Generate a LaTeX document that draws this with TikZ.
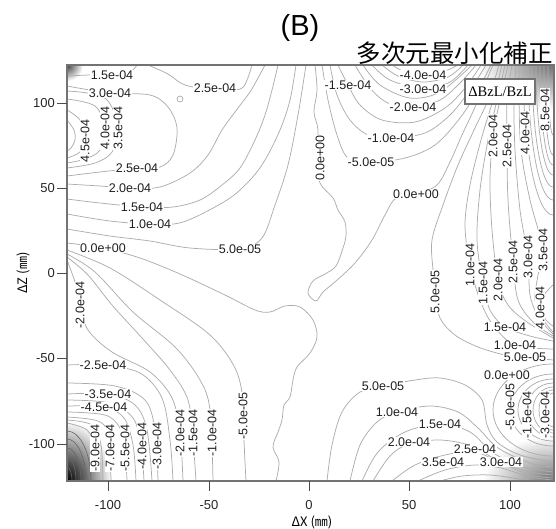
\documentclass[tikz,border=0pt]{standalone}
\usepackage{fontspec}
\setmainfont{Liberation Sans}
\newfontfamily\jpfont{Noto Sans CJK JP}
\newfontfamily\serfont{Liberation Serif}
\newcommand\contourline[1]{\draw[cl] plot[smooth,tension=0.55] coordinates {#1};}
\begin{document}
\begin{tikzpicture}[x=1pt,y=-1pt,
  cl/.style={draw=black!32,line width=0.75pt},
  dcl/.style={draw=black!60,line width=0.6pt},
  lab/.style={font=\fontsize{12.5}{13}\selectfont,text=black!88,fill=white,inner sep=0.4pt},
  vlab/.style={lab,rotate=90},
  tickmark/.style={draw=black!70,line width=0.9pt},
  ticklab/.style={font=\fontsize{13}{14}\selectfont,text=black!85,inner sep=0pt},
  frame/.style={draw=black!55,line width=1.6pt}]
\useasboundingbox (0,0) rectangle (556,528);

\begin{scope}
\clip (67,65) rectangle (554,481);
% corner shading
\shade[inner color=black!75,outer color=white] (67,65) circle (16pt);
\shade[inner color=black!55,outer color=white] (553,65) ellipse [x radius=75pt,y radius=45pt];
\shade[inner color=black!55,outer color=white] (553,481) ellipse [x radius=70pt,y radius=45pt];
\shade[inner color=black,outer color=white] (67,481) ellipse [x radius=45pt,y radius=60pt];

% top-left maximum
\contourline{(67,76) (90,75) (112,75) (130,72) (137,65)}
\contourline{(67,86) (110,93) (150,95) (168,107) (177,128) (173,155) (160,167) (137,168) (100,172) (67,176)}
\contourline{(67,91) (105,98) (118,128) (112,152) (95,163) (67,168)}
\contourline{(67,99) (95,106) (105,128) (100,150) (85,159) (67,163)}
\contourline{(67,110) (80,120) (85,138) (80,152) (67,158)}
\contourline{(67,120) (74,130) (75,140) (71,148) (67,151)}
\contourline{(148,65) (168,74) (185,85) (215,90) (240,89) (247,80) (252,65)}
\draw[cl] (180,99) circle (3pt);
\contourline{(67,184) (100,186) (130,188) (160,187) (190,173) (208,155) (222,130) (238,108) (250,92) (258,78) (265,65)}
\contourline{(67,199) (100,203) (142,207) (173,207) (200,200) (222,185) (240,168) (255,140) (265,115) (272,90) (278,65)}
\contourline{(67,214) (110,221) (150,224) (183,222) (227,200) (250,180) (265,160) (280,130) (290,100) (296,65)}
\contourline{(67,229) (110,236) (150,241) (190,248) (240,249) (262,238) (275,205) (288,165) (298,115) (306,65)}

% left zero line and bottom-left minimum
\contourline{(67,243) (103,248) (140,258) (180,274) (225,295) (255,310) (270,312) (285,306) (300,307) (313,320) (317,337) (310,353) (297,367) (293,380) (290,397) (284,405) (282,420) (278,432) (273,447) (279,462) (276,481)}
\contourline{(67,250) (110,268) (160,300) (210,335) (235,368) (243,400) (244,440) (246,481)}
\contourline{(67,254) (95,272) (133,312) (175,347) (200,380) (210,410) (213,481)}
\contourline{(67,257) (88,275) (112,305) (142,338) (170,370) (188,400) (193,440) (196,481)}
\contourline{(67,260) (76,285) (80,305) (88,330) (112,352) (150,372) (172,398) (180,433) (183,481)}
\contourline{(67,365) (103,365) (140,373) (162,398) (170,440) (173,481)}
\contourline{(67,383) (115,386) (145,400) (155,430) (158,481)}
\contourline{(67,394) (108,394) (135,405) (147,430) (152,481)}
\contourline{(67,400) (110,403) (133,418) (141,445) (144,481)}
\contourline{(67,406) (104,407) (124,418) (133,445) (136,481)}
\contourline{(67,412) (105,415) (120,428) (125,450) (127,481)}
\contourline{(67,417) (98,421) (108,435) (111,481)}
\contourline{(67,420) (92,425) (101,445) (103,481)}
\contourline{(67,423) (87,430) (95,448) (97,481)}
\foreach \rx/\ry in {24/50,19/42,14/33,9/24,5/14}
  \draw[dcl] (67,481) ellipse [x radius=\rx pt,y radius=\ry pt];

% central zero line around top minimum
\contourline{(315,65) (317,90) (314,112) (318,130) (317,160) (320,183) (333,198) (338,210) (345,222) (346,236) (343,248) (336,266) (325,274) (313,281) (308,293) (316,301) (323,292) (336,281) (355,263) (372,240) (385,215) (396,198) (416,194) (437,185) (450,162) (462,135) (476,105) (493,65)}

% top-centre minimum
\contourline{(322,65) (328,100) (337,135) (348,158) (371,162) (405,158) (435,145) (460,118) (478,90) (491,65)}
\contourline{(330,65) (337,95) (350,120) (368,135) (391,138) (425,133) (450,115) (470,90) (486,65)}
\contourline{(338,65) (348,85) (360,105) (382,120) (415,122) (445,108) (465,88) (481,65)}
\contourline{(355,65) (370,88) (388,103) (413,107) (440,100) (460,83) (476,65)}
\contourline{(363,65) (380,85) (410,98) (440,92) (472,65)}
\contourline{(372,65) (390,80) (423,89) (450,82) (468,65)}
\contourline{(382,65) (398,76) (423,82) (448,77) (463,65)}
\contourline{(392,65) (405,72) (423,75) (445,71) (458,65)}

% right ridge
\contourline{(499,65) (488,100) (474,130) (458,165) (443,205) (432,240) (433,270) (435,292) (440,318) (455,335) (478,347) (505,355) (525,357) (553,360)}
\contourline{(502,65) (493,100) (481,140) (470,185) (465,225) (470,265) (480,300) (493,325) (515,345) (553,349)}
\contourline{(505,65) (497,100) (488,140) (480,190) (477,240) (483,283) (490,310) (505,327) (530,336) (553,341)}
\contourline{(508,65) (500,100) (493,136) (490,180) (492,230) (498,280) (508,305) (527,322) (553,338)}
\contourline{(512,65) (507,100) (507,146) (508,200) (513,262) (518,300) (533,322) (553,336)}
\contourline{(516,65) (514,100) (515,150) (520,210) (528,257) (530,295) (539,318) (553,334)}
\contourline{(519,65) (519,100) (521,150) (530,200) (543,250) (538,275) (535,300) (542,318) (553,332)}
\contourline{(553,285) (544,295) (541,308) (546,320) (553,326)}
\foreach \rx/\ry in {30/150,25/135,21/122,17/110,13/100,9/90,5/70}
  \draw[cl] (553,65) ellipse [x radius=\rx pt,y radius=\ry pt];

% right-edge minimum
\foreach \rx/\ry in {60/46,43/36,35/31,26/27,20/23,14/20,8/17}
  \draw[cl] (553,410) ellipse [x radius=\rx pt,y radius=\ry pt];

% bottom-right maximum
\contourline{(327,481) (332,445) (342,412) (360,392) (383,386) (415,380) (440,378) (465,385) (482,400) (487,425) (497,442) (520,455) (553,462)}
\contourline{(350,481) (360,445) (377,422) (397,412) (430,406) (458,412) (478,428) (498,448) (530,463) (553,467)}
\contourline{(362,481) (378,452) (405,432) (440,424) (470,432) (492,452) (520,466) (553,472)}
\contourline{(373,481) (390,456) (409,444) (440,440) (472,446) (500,462) (530,472) (553,475)}
\contourline{(392,481) (415,465) (445,455) (475,452) (505,465) (530,475) (553,478)}
\contourline{(418,481) (445,470) (475,465) (501,468) (530,477) (553,480)}
\contourline{(440,481) (462,476) (490,475) (520,479) (540,481)}

% contour labels
\node[lab] (a1) at (112,75) {1.5e-04};
\node[lab] (a2) at (110,93) {3.0e-04};
\node[lab] (a3) at (215,88) {2.5e-04};
\node[lab] (a4) at (137,168) {2.5e-04};
\node[lab] (a5) at (130,188) {2.0e-04};
\node[lab] (a6) at (142,207) {1.5e-04};
\node[lab] (a7) at (150,224) {1.0e-04};
\node[lab] (a8) at (103,248) {0.0e+00};
\node[lab] (a9) at (240,249) {5.0e-05};
\node[vlab] (a10) at (85,141) {4.5e-04};
\node[vlab] (a11) at (105,128) {4.0e-04};
\node[vlab] (a12) at (118,128) {3.5e-04};

\node[lab] (b1) at (348,85) {-1.5e-04};
\node[lab] (b2) at (423,75) {-4.0e-04};
\node[lab] (b3) at (423,89) {-3.0e-04};
\node[lab] (b4) at (413,107) {-2.0e-04};
\node[lab] (b5) at (391,138) {-1.0e-04};
\node[lab] (b6) at (371,162) {-5.0e-05};
\node[lab] (b7) at (416,194) {0.0e+00};
\node[vlab] (b8) at (320,158) {0.0e+00};

\node[vlab] (c1) at (493,136) {2.0e-04};
\node[vlab] (c2) at (507,146) {2.5e-04};
\node[vlab] (c3) at (525,133) {4.0e-04};
\node[vlab] (c4) at (545,110) {8.5e-04};
\node[vlab] (c5) at (470,265) {1.0e-04};
\node[vlab] (c6) at (483,283) {1.5e-04};
\node[vlab] (c7) at (498,280) {2.0e-04};
\node[vlab] (c8) at (513,262) {2.5e-04};
\node[vlab] (c9) at (528,257) {3.0e-04};
\node[vlab] (c10) at (543,250) {3.5e-04};
\node[vlab] (c11) at (540,308) {4.0e-04};
\node[vlab] (c12) at (435,292) {5.0e-05};
\node[lab] (c13) at (505,327) {1.5e-04};
\node[lab] (c14) at (515,345) {1.0e-04};
\node[lab] (c15) at (525,357) {5.0e-05};
\node[lab] (c16) at (507,375) {0.0e+00};
\node[vlab] (c17) at (510,407) {-5.0e-05};
\node[vlab] (c18) at (527,415) {-1.5e-04};
\node[vlab] (c19) at (545,415) {-3.0e-04};

\node[lab] (d1) at (383,386) {5.0e-05};
\node[lab] (d2) at (397,412) {1.0e-04};
\node[lab] (d3) at (440,424) {1.5e-04};
\node[lab] (d4) at (409,442) {2.0e-04};
\node[lab] (d5) at (475,449) {2.5e-04};
\node[lab] (d6) at (443,462) {3.5e-04};
\node[lab] (d7) at (501,462) {3.0e-04};

\node[vlab] (e1) at (80,305) {-2.0e-04};
\node[lab] (e2) at (103,365) {-2.5e-04};
\node[lab] (e3) at (108,394) {-3.5e-04};
\node[lab] (e4) at (104,407) {-4.5e-04};
\node[vlab] (e5) at (95,448) {-9.0e-04};
\node[vlab] (e6) at (110,448) {-7.0e-04};
\node[vlab] (e7) at (125,448) {-5.5e-04};
\node[vlab] (e8) at (142,446) {-4.0e-04};
\node[vlab] (e9) at (157,446) {-3.0e-04};
\node[vlab] (e10) at (180,433) {-2.0e-04};
\node[vlab] (e11) at (193,433) {-1.5e-04};
\node[vlab] (e12) at (212,433) {-1.0e-04};
\node[vlab] (e13) at (243,416) {-5.0e-05};

% legend
\node[draw=black!55,line width=1.2pt,fill=white,minimum width=70pt,minimum height=25pt,inner sep=0pt,font=\serfont\fontsize{14.5}{15}\selectfont] (leg) at (500,91.5) {ΔBzL/BzL};
\end{scope}

% frame, ticks
\draw[frame] (67,65) rectangle (554,481);
\foreach \x/\t [count=\i] in {108/-100,209/-50,309/0,409/50,510/100}{
  \draw[tickmark] (\x,481) -- (\x,491);
  \node[ticklab] (bx\i) at (\x,505) {\t};
}
\foreach \y/\t [count=\i] in {103/100,188/50,273/0,358/-50,444/-100}{
  \draw[tickmark] (57,\y) -- (67,\y);
  \node[ticklab,anchor=east] (ly\i) at (55,\y) {\t};
}

% titles
\node[font=\jpfont\fontsize{13}{14}\selectfont,inner sep=0pt] (xt) at (312,522) {ΔX (㎜)};
\node[font=\jpfont\fontsize{13}{14}\selectfont,inner sep=0pt,rotate=90] (yt) at (23,273) {ΔZ (㎜)};
\node[font=\fontsize{29}{30}\selectfont,inner sep=0pt] (tb) at (300,28) {(B)};
\node[font=\jpfont\fontsize{24.5}{26}\selectfont,anchor=east,inner sep=0pt] (tj) at (553,53) {多次元最小化補正};
\end{tikzpicture}
\end{document}
